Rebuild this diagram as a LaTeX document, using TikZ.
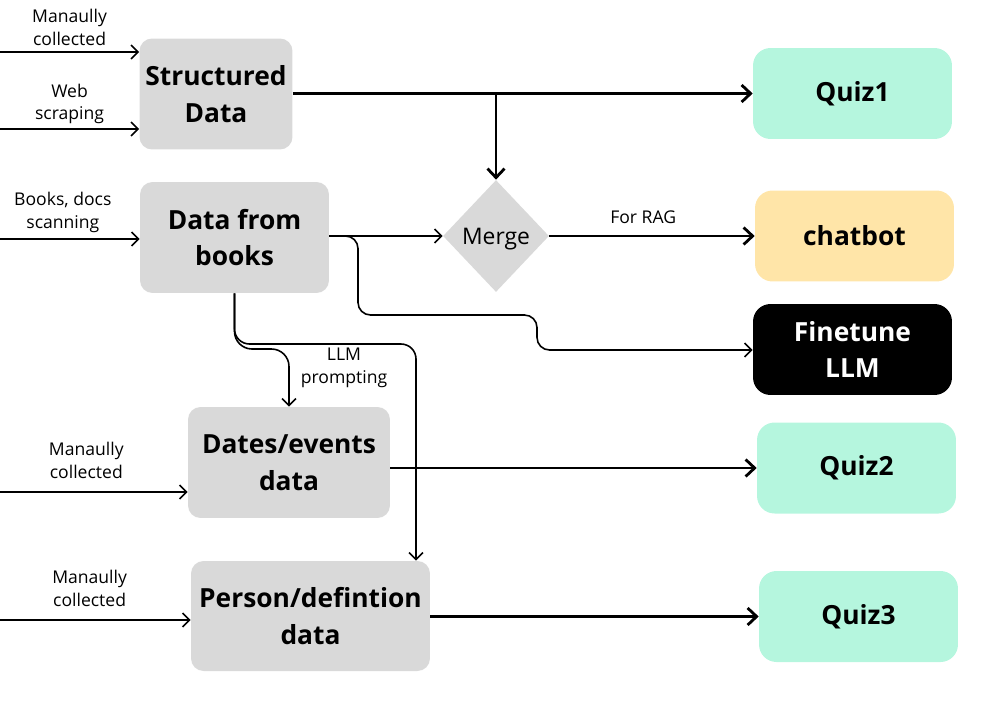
\documentclass[tikz,border=0pt]{standalone}
\usepackage{fontspec}
\setmainfont{Open Sans}
\usepackage{tikz}
\usetikzlibrary{shapes.geometric,arrows.meta}

\definecolor{boxgray}{HTML}{D9D9D9}
\definecolor{quizmint}{HTML}{B5F6DE}
\definecolor{chatsand}{HTML}{FFE5A8}
\newcommand\boxfont{\fontsize{15}{21}\selectfont\bfseries}
\newcommand\notefont{\fontsize{10}{13}\selectfont}
\newcommand\mergefont{\fontsize{13}{16}\selectfont}

\begin{document}
\begin{tikzpicture}[x=0.02cm, y=-0.02cm,
  databox/.style={fill=boxgray, rounded corners=0.25cm, align=center, font=\boxfont},
  outbox/.style={rounded corners=0.35cm, minimum width=3.98cm, minimum height=1.82cm, align=center, font=\boxfont},
  flow/.style={-{Straight Barb[length=1.4mm,width=2.8mm]}, line width=0.9pt},
  mainflow/.style={-{Straight Barb[length=1.8mm,width=3.4mm]}, line width=1.6pt},
  note/.style={font=\notefont, align=center}]
  \useasboundingbox (0,0) rectangle (1000,700);

  % Data sources
  \node[databox, minimum width=3.04cm, minimum height=2.22cm] (struct) at (216,94) {Structured\\Data};
  \node[databox, minimum width=3.78cm, minimum height=2.22cm] (books) at (234.5,237.5) {Data from\\books};
  \node[databox, minimum width=4.04cm, minimum height=2.22cm] (dates) at (289,462.5) {Dates/events\\data};
  \node[databox, minimum width=4.78cm, minimum height=2.2cm] (person) at (310.5,616) {Person/defintion\\data};
  % Merge step
  \node[diamond, fill=boxgray, inner sep=0pt, text depth=0pt, minimum width=2.12cm, minimum height=2.24cm, font=\mergefont] (merge) at (496,236) {Merge};

  % Outputs
  \node[outbox, fill=quizmint] (quiz1) at (852.5,93.5) {Quiz1};
  \node[outbox, fill=chatsand] (chatbot) at (854.5,236) {chatbot};
  \node[outbox, fill=black, text=white] (finetune) at (852.5,349.5) {Finetune\\LLM};
  \node[outbox, fill=quizmint] (quiz2) at (856.5,468) {Quiz2};
  \node[outbox, fill=quizmint] (quiz3) at (858.5,616.5) {Quiz3};

  % Free ends and bends
  \coordinate (manual1) at (0,52);
  \coordinate (web) at (0,129);
  \coordinate (scan) at (0,239);
  \coordinate (manual2) at (0,492);
  \coordinate (manual3) at (0,620);
  \coordinate (bendA) at (289,349);
  \coordinate (bendB) at (416,344);
  \coordinate (hopA) at (358,315);
  \coordinate (hopB) at (537,350);

  % Inputs
  \draw[flow] (manual1) -- (manual1 -| struct.west) node[midway, above, note] {Manaully\\collected};
  \draw[flow] (web) -- (web -| struct.west) node[midway, above=-1pt, note] {Web\\scraping};
  \draw[flow] (scan) -- (scan -| books.west) node[pos=0.45, above, note] {Books, docs\\scanning};
  \draw[flow] (manual2) -- (manual2 -| dates.west) node[pos=0.46, above=4pt, note] {Manaully\\collected};
  \draw[flow] (manual3) -- (manual3 -| person.west) node[pos=0.47, above=4pt, note] {Manaully\\collected};

  % Structured data to Quiz1 and Merge
  \draw[mainflow] (struct.east |- quiz1.west) -- (quiz1.west);
  \draw[mainflow] (merge.north |- quiz1.west) -- (merge.north);

  % Books to Merge and Finetune
  \draw[flow] (books.east |- merge.west) -- (merge.west);
  \draw[flow, rounded corners=0.25cm] (books.east |- merge.west) -| (hopA) -| (hopB) -- (hopB -| finetune.west);
  \draw[mainflow] (merge.east) -- (chatbot.west) node[midway, above=3pt, xshift=-5pt, note] {For RAG};

  % LLM prompting
  \draw[flow, rounded corners=0.35cm] (books.south) |- (bendA) -- (dates.north);
  \draw[flow, rounded corners=0.3cm] (books.south) |- (bendB) -- (bendB |- person.north);
  \node[note] (prompt) at (344,368) {LLM\\prompting};

  % Quizzes
  \draw[mainflow] (dates.east |- quiz2.west) -- (quiz2.west);
  \draw[mainflow] (person.east |- quiz3.west) -- (quiz3.west);
\end{tikzpicture}
\end{document}
